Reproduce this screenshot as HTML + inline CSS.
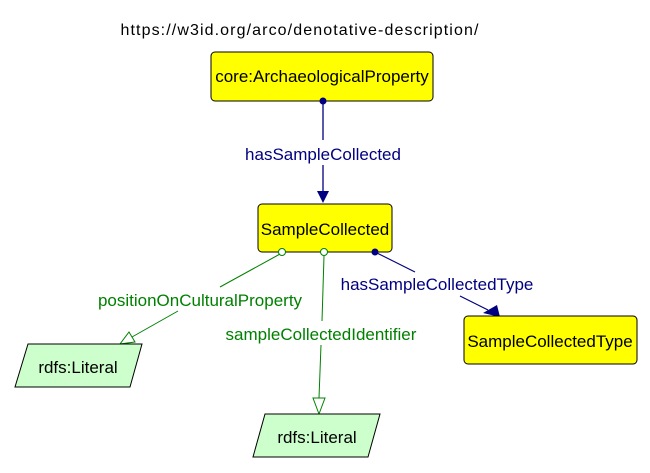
<!DOCTYPE html>
<html><head><meta charset="utf-8"><style>
html,body{margin:0;padding:0;background:#fff;width:650px;height:473px;overflow:hidden}
svg{display:block}
text{font-family:"Liberation Sans",sans-serif}
</style></head><body>
<svg width="650" height="473" viewBox="0 0 650 473" xmlns="http://www.w3.org/2000/svg">
<text x="300" y="35" font-size="16" letter-spacing="1.1" text-anchor="middle" fill="#000">https://w3id.org/arco/denotative-description/</text>
<rect x="211" y="52" width="222" height="49" rx="4" fill="#ffff00" stroke="#000"/>
<text x="322" y="82" font-size="17" text-anchor="middle">core:ArchaeologicalProperty</text>
<line x1="323" y1="101" x2="323" y2="140" stroke="#000080" stroke-width="1.3"/>
<line x1="323" y1="165" x2="323" y2="192" stroke="#000080" stroke-width="1.3"/>
<circle cx="323" cy="101" r="3.5" fill="#000080"/>
<polygon points="317,191 329,191 323,203" fill="#000080"/>
<text x="323" y="160" font-size="17" text-anchor="middle" fill="#000080">hasSampleCollected</text>

<rect x="258" y="204" width="134" height="48" rx="4" fill="#ffff00" stroke="#000"/>
<text x="325" y="235" font-size="17" text-anchor="middle">SampleCollected</text>

<!-- position -->
<line x1="280" y1="254" x2="220" y2="287" stroke="#008000"/>
<line x1="178" y1="311" x2="132" y2="337" stroke="#008000"/>
<polygon points="120,344 135,342 129,332" fill="#fff" stroke="#008000"/>
<circle cx="282" cy="252" r="3.5" fill="#fff" stroke="#008000"/>
<text x="200" y="306" font-size="17" text-anchor="middle" fill="#008000">positionOnCulturalProperty</text>

<!-- identifier -->
<line x1="324" y1="256" x2="322" y2="321" stroke="#008000"/>
<line x1="321" y1="345" x2="319" y2="398" stroke="#008000"/>
<polygon points="313,398 325,398 319,414" fill="#fff" stroke="#008000"/>
<circle cx="324" cy="252" r="3.5" fill="#fff" stroke="#008000"/>
<text x="321" y="340" font-size="17" text-anchor="middle" fill="#008000">sampleCollectedIdentifier</text>

<!-- type -->
<line x1="375" y1="252" x2="415" y2="272" stroke="#000080" stroke-width="1.2"/>
<line x1="460" y1="296" x2="488" y2="310" stroke="#000080" stroke-width="1.2"/>
<circle cx="375" cy="252" r="3.5" fill="#000080"/>
<polygon points="483,313 497,305 500,317" fill="#000080"/>
<text x="437" y="290" font-size="17" text-anchor="middle" fill="#000080">hasSampleCollectedType</text>

<rect x="464" y="316" width="173" height="48" rx="4" fill="#ffff00" stroke="#000"/>
<text x="550" y="347" font-size="17" text-anchor="middle">SampleCollectedType</text>

<polygon points="28,344 142,344 130,387 15,387" fill="#ccffcc" stroke="#000"/>
<text x="78" y="373" font-size="17" text-anchor="middle">rdfs:Literal</text>
<polygon points="265,414 380,414 368,457 253,457" fill="#ccffcc" stroke="#000"/>
<text x="317" y="443" font-size="17" text-anchor="middle">rdfs:Literal</text>
</svg>
</body></html>
